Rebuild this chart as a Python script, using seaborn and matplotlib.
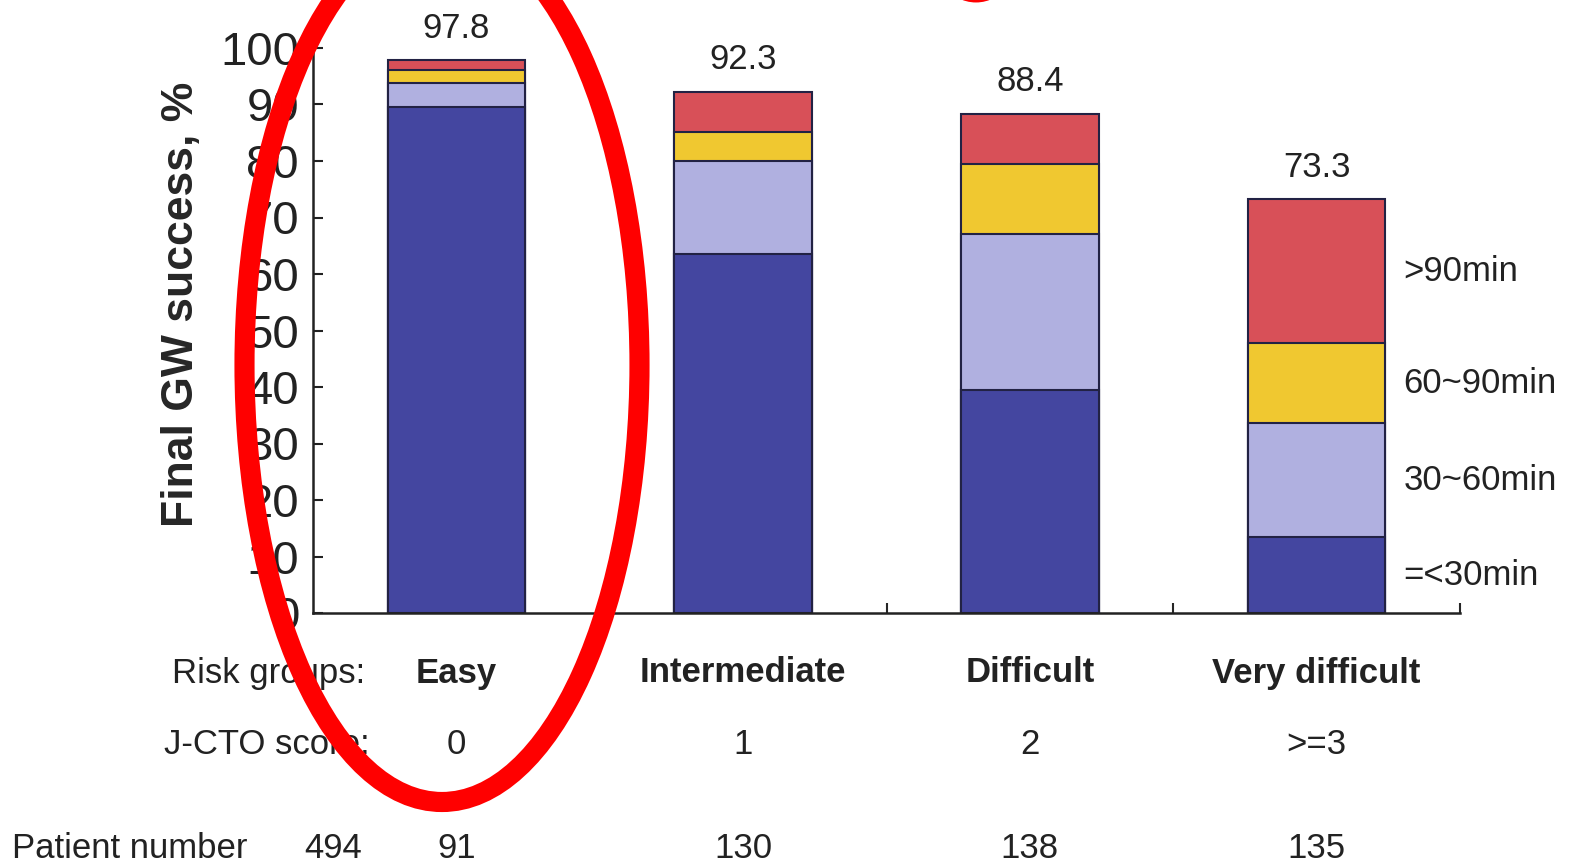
import numpy as np
import pandas as pd
import matplotlib
matplotlib.use("Agg")
import matplotlib.pyplot as plt
import matplotlib.transforms as mtrans
from matplotlib.patches import Ellipse
import seaborn as sns

# -------- Datos --------
grupos = ["Easy", "Intermediate", "Difficult", "Very difficult"]
jcto = ["0", "1", "2", ">=3"]
pacientes = ["91", "130", "138", "135"]
total_pacientes = "494"

t_30 = [89.5, 63.6, 39.5, 13.4]      # =<30min
t_30_60 = [4.3, 16.4, 27.5, 20.2]    # 30~60min
t_60_90 = [2.3, 5.2, 12.5, 14.1]     # 60~90min
t_90 = [1.7, 7.1, 8.9, 25.6]         # >90min
totales = [97.8, 92.3, 88.4, 73.3]

tramos = ["=<30min", "30~60min", "60~90min", ">90min"]
colores = ["#4446A0", "#B0B0E0", "#F0C830", "#D85058"]

df = pd.DataFrame({"grupo": grupos, "=<30min": t_30, "30~60min": t_30_60,
                   "60~90min": t_60_90, ">90min": t_90})
acum = df[tramos].cumsum(axis=1)

# -------- Figura --------
sns.set_style("ticks")
plt.rcParams["font.family"] = ["Liberation Sans", "DejaVu Sans"]

fig = plt.figure(figsize=(15.69, 8.66), dpi=100)
ax = fig.add_axes([313 / 1569, 1 - 613 / 866, 1147 / 1569, 565 / 866])

# barras apiladas: se dibuja primero el acumulado mayor
for tramo, color in reversed(list(zip(tramos, colores))):
    sns.barplot(x=df["grupo"], y=acum[tramo], color=color, width=0.48,
                edgecolor="#222244", linewidth=1.5, saturation=1, ax=ax)

ax.set_xlim(-0.5, 3.5)
ax.set_ylim(0, 100)
ax.set_yticks(range(0, 101, 10))
ax.tick_params(axis="y", direction="in", length=7, width=1.5,
               labelsize=34, pad=10, colors="#222222")
ax.set_xticks([])
ax.set_xticks([0.5, 1.5, 2.5, 3.5], minor=True)
ax.tick_params(axis="x", which="minor", direction="in", length=7, width=1.5)
ax.set_xlabel("")
ax.set_ylabel("Final GW success, %", fontsize=32, fontweight="bold")
ax.yaxis.set_label_coords(-0.097, 0.547)
for s in ["top", "right"]:
    ax.spines[s].set_visible(False)
for s in ["left", "bottom"]:
    ax.spines[s].set_linewidth(1.8)
    ax.spines[s].set_color("#222222")

# totales sobre cada barra
for i, t in enumerate(totales):
    ax.annotate(f"{t:.1f}", (i, t), xytext=(0, 11), textcoords="offset points",
                ha="center", va="bottom", fontsize=25, color="#222222")

# etiquetas de tramo a la derecha de la última barra
ultimo = acum.iloc[-1]
previo = [0] + list(ultimo[:-1])
for tramo, base in zip(tramos, previo):
    ax.annotate(tramo, (3.24, (base + ultimo[tramo]) / 2), xytext=(13, 0),
                textcoords="offset points", ha="left", va="center",
                fontsize=25, color="#222222", annotation_clip=False)

# filas de texto debajo del eje
tr = mtrans.blended_transform_factory(ax.transData, fig.transFigure)
y_risk, y_jcto, y_pac = 1 - 673 / 866, 1 - 744 / 866, 1 - 849 / 866
fig.text(365 / 1569, y_risk, "Risk groups:", ha="right", va="center",
         fontsize=25, color="#222222")
fig.text(370 / 1569, y_jcto, "J-CTO score:", ha="right", va="center",
         fontsize=25, color="#222222")
fig.text(12 / 1569, y_pac, "Patient number", ha="left", va="center",
         fontsize=25, color="#222222")
fig.text(333 / 1569, y_pac, total_pacientes, ha="center", va="center",
         fontsize=25, color="#222222")
for i in range(len(grupos)):
    ax.text(i, y_risk, grupos[i], transform=tr, ha="center", va="center",
            fontsize=25, fontweight="bold", color="#222222")
    ax.text(i, y_jcto, jcto[i], transform=tr, ha="center", va="center",
            fontsize=25, color="#222222")
    ax.text(i, y_pac, pacientes[i], transform=tr, ha="center", va="center",
            fontsize=25, color="#222222")

# elipse roja resaltando el grupo "Easy"
fig.add_artist(Ellipse((442 / 1569, 1 - 365 / 866), 395 / 1569, 874 / 866,
                       transform=fig.transFigure, fill=False,
                       edgecolor="#FF0000", linewidth=14.5, clip_on=False,
                       zorder=10))
# resto de otra marca roja cortada en el borde superior
fig.add_artist(Ellipse((976 / 1569, 1 + 60 / 866), 90 / 1569, 118 / 866,
                       transform=fig.transFigure, fill=False,
                       edgecolor="#FF0000", linewidth=5, clip_on=False,
                       zorder=10))

fig.savefig("out.png", dpi=100, facecolor="white")
